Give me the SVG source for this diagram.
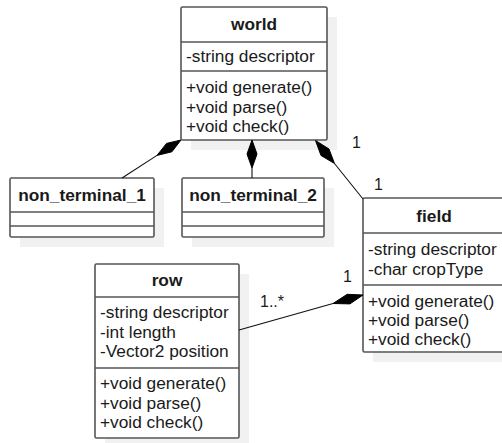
<svg xmlns="http://www.w3.org/2000/svg" width="502" height="443" viewBox="0 0 502 443">
<style>
.sh{fill:#f1f1f1;stroke:none}
.bx{fill:#ffffff;stroke:#555555;stroke-width:1.6}
.dv{stroke:#555555;stroke-width:1.6}
text{font-family:"Liberation Sans",Arial,sans-serif;font-size:17.3px;fill:#1a1a1a}
.t{font-weight:bold;text-anchor:middle}
.ln{stroke:#111111;stroke-width:1.1;fill:none}
.dm{fill:#000000;stroke:#000000;stroke-width:1}
.lb{font-size:16px}
</style>
<rect width="502" height="443" fill="#ffffff"/>
<g id="world">
<rect class="sh" x="191" y="17" width="146" height="133"/>
<rect class="bx" x="181" y="7" width="146" height="133" rx="1.5"/>
<line class="dv" x1="181" y1="42" x2="327" y2="42"/>
<line class="dv" x1="181" y1="71" x2="327" y2="71"/>
<text class="t" x="254" y="30">world</text>
<text x="186" y="62">-string descriptor</text>
<text x="186" y="93">+void generate()</text>
<text x="186" y="112.5">+void parse()</text>
<text x="186" y="132">+void check()</text>
</g>
<g id="non_terminal_1">
<rect class="sh" x="20" y="188" width="144" height="59"/>
<rect class="bx" x="10" y="178" width="144" height="59" rx="1.5"/>
<line class="dv" x1="10" y1="212" x2="154" y2="212"/>
<line class="dv" x1="10" y1="226" x2="154" y2="226"/>
<text class="t" x="82" y="201">non_terminal_1</text>
</g>
<g id="non_terminal_2">
<rect class="sh" x="192" y="188" width="142" height="59"/>
<rect class="bx" x="182" y="178" width="142" height="59" rx="1.5"/>
<line class="dv" x1="182" y1="212" x2="324" y2="212"/>
<line class="dv" x1="182" y1="226" x2="324" y2="226"/>
<text class="t" x="253" y="201">non_terminal_2</text>
</g>
<g id="field">
<rect class="sh" x="373" y="208" width="145" height="154"/>
<rect class="bx" x="363" y="198" width="145" height="154" rx="1.5"/>
<line class="dv" x1="363" y1="233" x2="508" y2="233"/>
<line class="dv" x1="363" y1="285" x2="508" y2="285"/>
<text class="t" x="434" y="222">field</text>
<text x="368" y="255">-string descriptor</text>
<text x="368" y="274.5">-char cropType</text>
<text x="368" y="307">+void generate()</text>
<text x="368" y="326">+void parse()</text>
<text x="368" y="345">+void check()</text>
</g>
<g id="row">
<rect class="sh" x="105" y="274" width="144" height="174"/>
<rect class="bx" x="95" y="264" width="144" height="174" rx="1.5"/>
<line class="dv" x1="95" y1="297" x2="239" y2="297"/>
<line class="dv" x1="95" y1="368" x2="239" y2="368"/>
<text class="t" x="167" y="286">row</text>
<text x="100" y="318">-string descriptor</text>
<text x="100" y="337.5">-int length</text>
<text x="100" y="357">-Vector2 position</text>
<text x="100" y="389">+void generate()</text>
<text x="100" y="408.5">+void parse()</text>
<text x="100" y="428">+void check()</text>
</g>
<g id="connectors">
<line class="ln" x1="122" y1="178" x2="157" y2="155.4"/>
<polygon class="dm" points="181,140 171.9,151.8 157,155.4 166.5,143.4"/>
<line class="ln" x1="252" y1="168" x2="252" y2="178"/>
<polygon class="dm" points="252,140 257,154 252,168 247,154"/>
<line class="ln" x1="334.5" y1="163.5" x2="363" y2="199"/>
<polygon class="dm" points="315.5,140.5 329,149 334.5,163.5 321,155.5"/>
<text class="lb" x="352" y="148">1</text>
<text class="lb" x="374" y="190">1</text>
<line class="ln" x1="239" y1="330" x2="333" y2="303.5"/>
<polygon class="dm" points="363,295 349.9,303.9 333,303.5 347.2,294.3"/>
<text class="lb" x="260" y="307">1..*</text>
<text class="lb" x="343" y="282">1</text>
</g>
</svg>
